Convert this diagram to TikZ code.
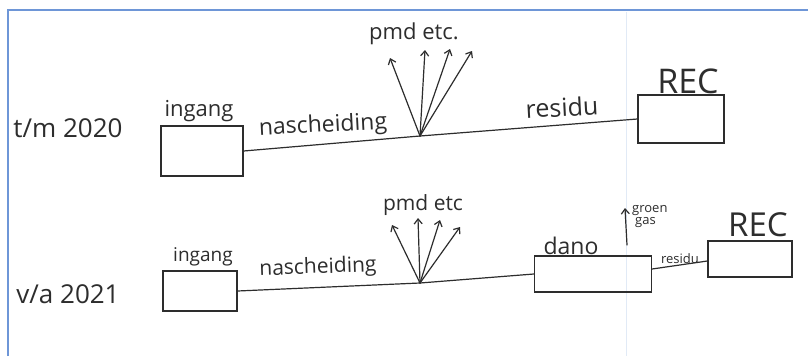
\documentclass[tikz,border=0pt]{standalone}
\usepackage{fontspec}
\setmainfont{Open Sans}
\usetikzlibrary{arrows.meta}
\definecolor{frameblue}{RGB}{110,150,215}
\definecolor{pageline}{RGB}{225,234,246}
\definecolor{ink}{RGB}{45,45,45}
\tikzset{
  ink/.style={draw=ink, line width=1.2pt},
  boxnode/.style={ink, rectangle, inner sep=0pt},
  lbl/.style={text=ink, inner sep=0pt, font=\fontsize{#1}{#1}\selectfont},
  flow/.style={ink, line cap=round},
  outarrow/.style={ink, line cap=round, -{Straight Barb[length=5pt,width=8pt]}},
}
\begin{document}
\begin{tikzpicture}[x=1pt,y=-1pt]
\useasboundingbox (0,0) rectangle (808,356);
\fill[white] (0,0) rectangle (808,356);
% page frame
\draw[frameblue, line width=1.2pt] (8,356) -- (8,10) -- (808,10);
\draw[pageline, line width=1pt] (626,12) -- (626,356);

% ---------- top row ----------
\node[lbl=26] (t1) at (68,128) {t/m 2020};
\node[boxnode, minimum width=82pt, minimum height=50pt] (in1) at (202,151) {};
\node[lbl=22, anchor=south] (in1l) at (199,122) {ingang};
\coordinate (j1) at (420,136);
\node[lbl=23, rotate=3] (n1) at (323,126) {nascheiding};
\node[lbl=22] (p1) at (414,34) {pmd etc.};
\coordinate (a1) at (390,58);
\coordinate (a2) at (425,50);
\coordinate (a3) at (450,49);
\coordinate (a4) at (472,51);
\node[boxnode, minimum width=86pt, minimum height=48pt] (rec1) at (681,119) {};
\node[lbl=34, anchor=south] (rec1l) at (688,94) {REC};
\node[lbl=25, rotate=3] (r1) at (562,107) {residu};

\draw[flow] (in1.east) -- (j1);
\draw[flow] (j1) -- (rec1.west);
\foreach \t in {a1,a2,a3,a4} \draw[outarrow] (j1) -- (\t);

% ---------- bottom row ----------
\node[lbl=26] (t2) at (68,294) {v/a 2021};
\node[boxnode, minimum width=74pt, minimum height=40pt] (in2) at (200,291) {};
\node[lbl=19, anchor=south] (in2l) at (203,266) {ingang};
\coordinate (j2) at (420,283);
\node[lbl=21, rotate=2] (n2) at (318,268) {nascheiding};
\node[lbl=21] (p2) at (423,205) {pmd etc};
\coordinate (b1) at (392,225);
\coordinate (b2) at (418,218);
\coordinate (b3) at (440,220);
\coordinate (b4) at (460,227);
\node[boxnode, minimum width=117pt, minimum height=36pt] (dano) at (593,274) {};
\node[lbl=23, anchor=south] (danol) at (571,255) {dano};
\coordinate (g0) at (627,245);
\coordinate (g1) at (625,208);
\node[lbl=13, anchor=west, align=left] (gg) at (632,217) {groen\\[-1pt]\hspace*{3pt}gas};
\node[boxnode, minimum width=84pt, minimum height=36pt] (rec2) at (750,259) {};
\node[lbl=33, anchor=south] (rec2l) at (758,237) {REC};
\node[lbl=13] (r2) at (680,259) {residu};

\draw[flow] (in2.east) -- (j2);
\draw[flow] (j2) -- (dano.west);
\foreach \t in {b1,b2,b3,b4} \draw[outarrow] (j2) -- (\t);
\draw[outarrow] (g0) -- (g1);
\draw[flow] ([yshift=5pt]dano.east) -- ([yshift=-2pt]rec2.west);
\end{tikzpicture}
\end{document}
